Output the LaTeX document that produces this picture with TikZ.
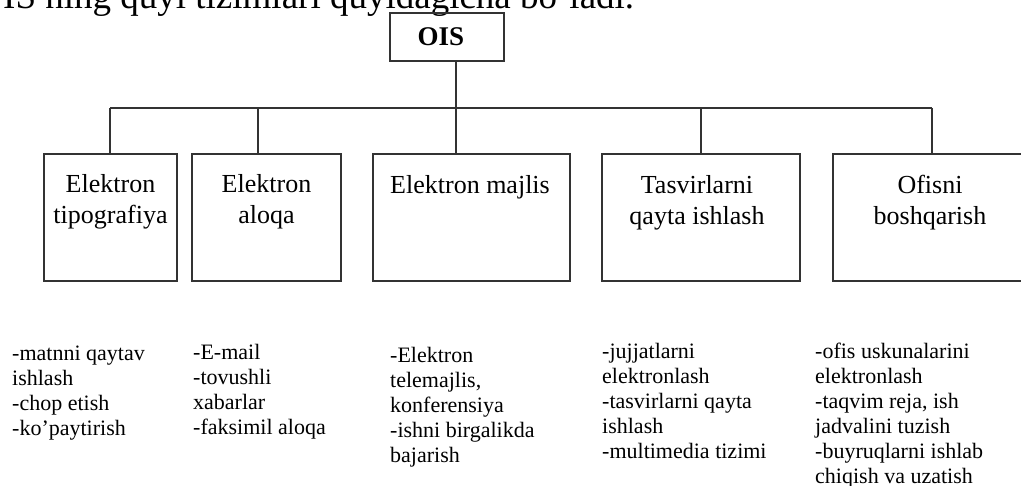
\documentclass[tikz,border=0pt]{standalone}
\usepackage{fontspec}
\setmainfont{Liberation Serif}
\tikzset{
  unit/.style={draw=black!80, line width=1.4pt, inner sep=0pt, minimum height=127pt},
  conn/.style={draw=black!80, line width=1.4pt},
  boxtext/.style={anchor=north, inner sep=0pt, align=center, font=\fontsize{26}{31}\selectfont},
  listtext/.style={anchor=north west, inner sep=0pt, align=left, font=\fontsize{22}{25}\selectfont},
}
\begin{document}
\begin{tikzpicture}[x=1pt,y=-1pt]
\clip (0,0) rectangle (1021,486);
\fill[white] (0,0) rectangle (1021,486);
% heading line (cut at the top)
\node[anchor=base west, inner sep=0pt, font=\fontsize{37}{44}\selectfont] (head) at (3,9) {IS ning quyi tizimlari quyidagicha bo’ladi.};
% root
\node[draw=black!80, line width=1.4pt, minimum width=114pt, minimum height=48pt, inner sep=0pt] (ois) at (447,37) {};
\node[anchor=base, inner sep=0pt, font=\fontsize{27}{32}\selectfont\bfseries] (oist) at (441,46) {OIS};
% boxes
\node[unit, minimum width=133pt] (b1) at (110.5,217.5) {};
\node[unit, minimum width=149pt] (b2) at (266.5,217.5) {};
\node[unit, minimum width=197pt] (b3) at (471.5,217.5) {};
\node[unit, minimum width=198pt] (b4) at (701,217.5) {};
\node[unit, minimum width=198pt] (b5) at (932,217.5) {};
% box labels
\node[boxtext] (t1) at (110.5,171) {\strut Elektron\\tipografiya};
\node[boxtext] (t2) at (266.5,171) {\strut Elektron\\aloqa};
\node[boxtext] (t3) at (470,172) {\strut Elektron majlis};
\node[boxtext] (t4) at (697,172) {\strut Tasvirlarni\\qayta ishlash};
\node[boxtext] (t5) at (930,172) {\strut Ofisni\\boshqarish};
% connectors
\coordinate (d1) at (110,108);
\coordinate (d2) at (258,108);
\coordinate (d3) at (456,108);
\coordinate (d4) at (701,108);
\coordinate (d5) at (932,108);
\draw[conn] (d3 |- ois.south) -- (d3);
\draw[conn] (d1) -- (d5);
\draw[conn] (d1) -- (d1 |- b1.north);
\draw[conn] (d2) -- (d2 |- b2.north);
\draw[conn] (d3) -- (d3 |- b3.north);
\draw[conn] (d4) -- (d4 |- b4.north);
\draw[conn] (d5) -- (d5 |- b5.north);
% lists
\node[listtext] (l1) at (12,342.5) {\strut-matnni qaytav\\ishlash\\-chop etish\\-ko’paytirish};
\node[listtext] (l2) at (193,341.5) {\strut-E-mail\\-tovushli\\xabarlar\\-faksimil aloqa};
\node[listtext] (l3) at (390,345) {\strut-Elektron\\telemajlis,\\konferensiya\\-ishni birgalikda\\bajarish};
\node[listtext] (l4) at (602,340.5) {\strut-jujjatlarni\\elektronlash\\-tasvirlarni qayta\\ishlash\\-multimedia tizimi};
\node[listtext] (l5) at (815,340.5) {\strut-ofis uskunalarini\\elektronlash\\-taqvim reja, ish\\jadvalini tuzish\\-buyruqlarni ishlab\\chiqish va uzatish};
\end{tikzpicture}
\end{document}
